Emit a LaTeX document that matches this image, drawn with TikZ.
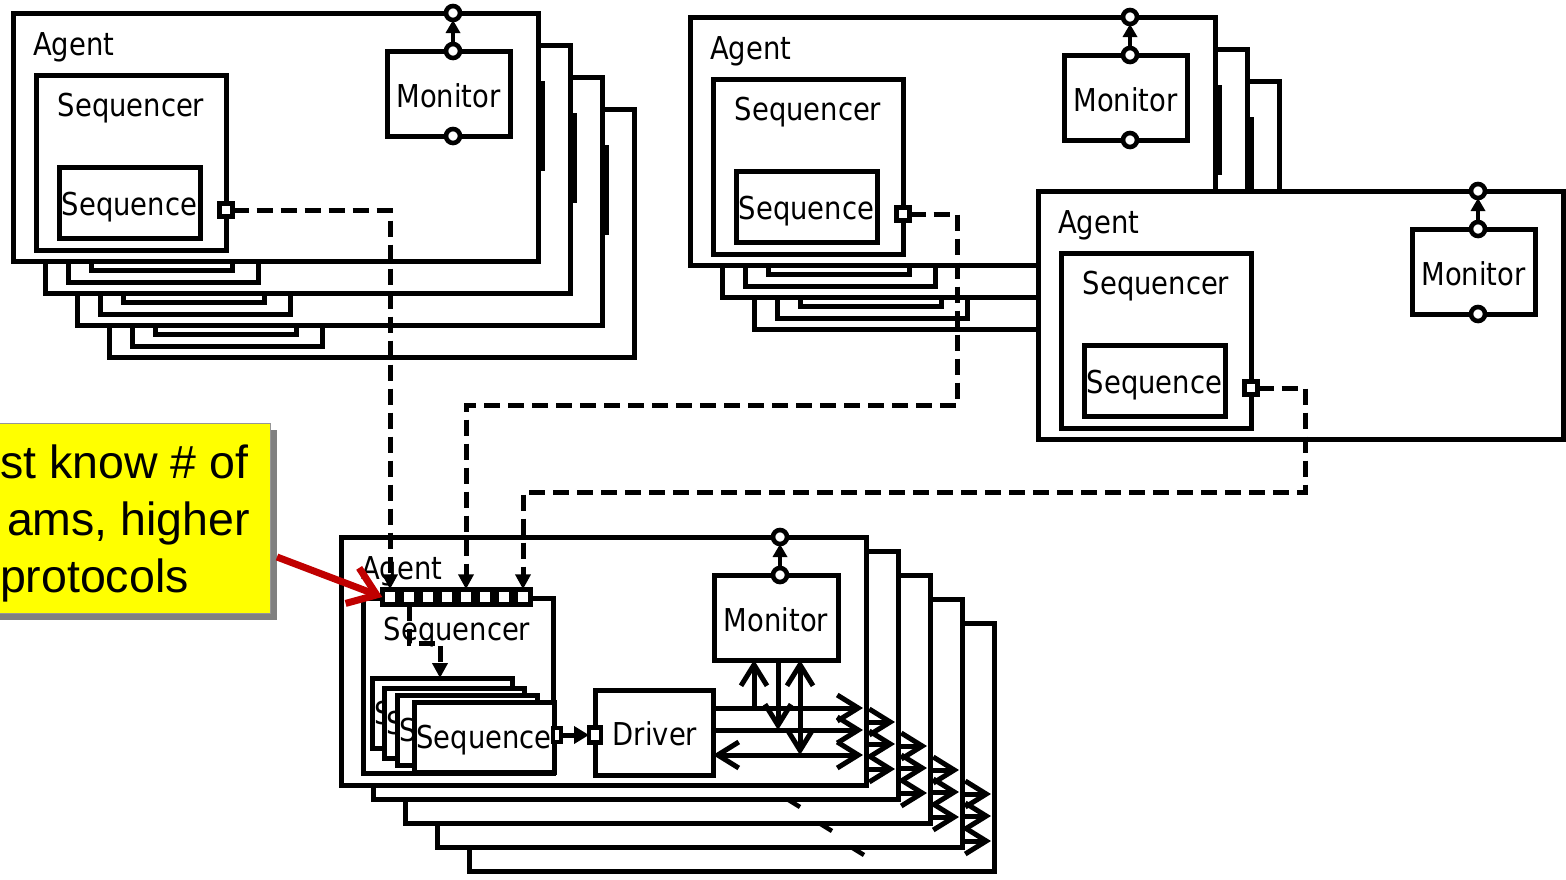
\documentclass[tikz,border=0pt]{standalone}
\usepackage{fontspec}
\usetikzlibrary{arrows.meta}
\newfontfamily\lblfont[FakeStretch=0.87]{DejaVu Sans}
\newfontfamily\callfont{Liberation Sans}
\definecolor{arrowred}{RGB}{192,0,0}
\definecolor{callyellow}{RGB}{255,255,0}
\definecolor{shadowgray}{RGB}{128,128,128}
\definecolor{bordergray}{RGB}{150,150,150}
\tikzset{
  bx/.style={draw=black, fill=white, line width=5pt, inner sep=0pt, outer sep=0pt, anchor=north west},
  lbl/.style={font=\lblfont\fontsize{31.5}{36}\selectfont, inner sep=0pt, outer sep=0pt},
  ringnode/.style={circle, draw=black, fill=white, line width=4.6pt, minimum size=14pt, inner sep=0pt, outer sep=0pt},
  portsq/.style={draw=black, fill=white, line width=4.6pt, minimum size=13pt, inner sep=0pt, outer sep=0pt},
  banksq/.style={draw=black, fill=white, line width=4.6pt, minimum size=15.5pt, inner sep=0pt, outer sep=0pt},
  dashconn/.style={draw=black, line width=5pt, dash pattern=on 16pt off 8pt, -{Triangle[length=15pt,width=15pt]}},
  upconn/.style={draw=black, line width=4pt, -{Triangle[length=13pt,width=14pt]}},
  solidarrow/.style={draw=black, line width=5pt, -{Triangle[length=15pt,width=17pt]}},
  sig/.style={draw=black, line width=5pt, -{Straight Barb[length=21pt,width=26pt]}},
  sigboth/.style={draw=black, line width=5pt, {Straight Barb[length=21pt,width=26pt]}-{Straight Barb[length=21pt,width=26pt]}},
  stubline/.style={draw=black, line width=4.5pt},
  redarrow/.style={draw=arrowred, line width=7pt, -{Straight Barb[length=26pt,width=38pt]}},
  calltext/.style={font=\callfont\fontsize{46.5}{56}\selectfont, inner sep=0pt, outer sep=0pt},
}
% top-style agent shapes: prefix, x, y
\newcommand\agentTshape[3]{%
\begin{scope}[shift={(#2,#3)}]
 \node[bx, minimum width=525pt, minimum height=248pt] (#1-agent) at (0,0) {};
 \node[bx, minimum width=190pt, minimum height=175pt] (#1-sqr) at (23,62) {};
 \node[bx, minimum width=141pt, minimum height=71pt] (#1-seq) at (46,154) {};
 \node[portsq] (#1-port) at (213,197) {};
 \node[bx, minimum width=123pt, minimum height=85pt] (#1-mon) at (374,38) {};
 \node[ringnode] (#1-mtop) at (440,38) {};
 \node[ringnode] (#1-mbot) at (440,123) {};
 \node[ringnode] (#1-atop) at (440,0) {};
 \draw[upconn] (#1-mtop) -- (#1-atop);
\end{scope}}
% top-style agent labels
\newcommand\agentTlabels[3]{%
\begin{scope}[shift={(#2,#3)}]
 \node[lbl, anchor=base west] (#1-agentlbl) at (20,42) {Agent};
 \node[lbl, anchor=base] (#1-sqrlbl) at (118,103) {Sequencer};
 \node[lbl, anchor=base] (#1-seqlbl) at (116.5,202) {Sequence};
 \node[lbl, anchor=base] (#1-monlbl) at (435.5,94) {Monitor};
\end{scope}}
% bottom stack, back agent: prefix, x, y
\newcommand\agentBback[3]{%
\begin{scope}[shift={(#2,#3)}]
 \node[bx, minimum width=525pt, minimum height=248pt] (#1-agent) at (0,0) {};
 \coordinate (#1-s1) at (372,171);
 \coordinate (#1-s2) at (372,193);
 \coordinate (#1-s3) at (372,218);
 \coordinate (#1-e1) at (522,171);
 \coordinate (#1-e2) at (522,193);
 \coordinate (#1-e3) at (522,218);
 \draw[sig] (#1-s1) -- (#1-e1);
 \draw[sig] (#1-s2) -- (#1-e2);
 \draw[sig] (#1-s3) -- (#1-e3);
\end{scope}}
% bottom stack, front agent: prefix, x, y
\newcommand\agentB[3]{%
\begin{scope}[shift={(#2,#3)}]
 \node[bx, minimum width=525pt, minimum height=248pt] (#1-agent) at (0,0) {};
 \node[lbl, anchor=base west] (#1-agentlbl) at (20,42) {Agent};
 \node[bx, minimum width=190pt, minimum height=175pt] (#1-sqr) at (22,61) {};
 \node[lbl, anchor=base] (#1-sqrlbl) at (116,103) {Sequencer};
 \node[bx, minimum width=140pt, minimum height=70pt] (#1-sa) at (31,141) {};
 \node[lbl, anchor=base west] (#1-salbl) at (33,187) {S};
 \node[bx, minimum width=140pt, minimum height=70pt] (#1-sb) at (43,151) {};
 \node[lbl, anchor=base west] (#1-sblbl) at (45,197) {S};
 \node[bx, minimum width=140pt, minimum height=70pt] (#1-sc) at (56,158) {};
 \node[lbl, anchor=base west] (#1-sclbl) at (58,204) {S};
 \node[bx, minimum width=140pt, minimum height=70pt] (#1-sd) at (73,165) {};
 \node[lbl, anchor=base] (#1-sdlbl) at (143,211) {Sequence};
 \node[bx, minimum width=118pt, minimum height=85pt] (#1-drv) at (254,153) {};
 \node[lbl, anchor=base] (#1-drvlbl) at (314,208) {Driver};
 \node[draw=black, fill=white, line width=4.4pt, minimum width=12pt, minimum height=15pt, inner sep=0pt, outer sep=0pt] (#1-dport) at (254,198) {};
 \node[draw=black, fill=white, line width=4.4pt, minimum width=8pt, minimum height=14pt, inner sep=0pt, outer sep=0pt] (#1-sport) at (216,198) {};
 \draw[solidarrow] (#1-sport.east) -- (#1-dport.west);
 \node[bx, minimum width=124pt, minimum height=85pt] (#1-mon) at (373,38) {};
 \node[lbl, anchor=base] (#1-monlbl) at (435,94) {Monitor};
 \node[ringnode] (#1-mtop) at (439,38) {};
 \node[ringnode] (#1-atop) at (439,0) {};
 \draw[upconn] (#1-mtop) -- (#1-atop);
 \coordinate (#1-e1) at (522,171);
 \coordinate (#1-e2) at (522,193);
 \coordinate (#1-e3) at (522,218);
 \draw[sig] (#1-drv.east |- #1-e1) -- (#1-e1);
 \draw[sig] (#1-drv.east |- #1-e2) -- (#1-e2);
 \draw[sigboth] (#1-drv.east |- #1-e3) -- (#1-e3);
 \coordinate (#1-v1) at (413,171);
 \coordinate (#1-v2) at (437,193);
 \coordinate (#1-v3) at (459,218);
 \draw[sig] (#1-v1) -- (#1-v1 |- #1-mon.south);
 \draw[sig] (#1-v2 |- #1-mon.south) -- (#1-v2);
 \draw[sigboth] (#1-v3 |- #1-mon.south) -- (#1-v3);
 \foreach \k in {0,...,7} {\node[banksq] (#1-b\k) at ({49+19*\k},60) {};}
 \coordinate (#1-bend) at (99,106);
 \draw[dashconn] (#1-b1.south) |- (#1-bend) -- (#1-bend |- #1-sa.north);
\end{scope}}

\begin{document}
\begin{tikzpicture}[x=1pt,y=-1pt,line join=miter]
\useasboundingbox (0,0) rectangle (1566,879);
% top-left stack
\agentTshape{tlD}{109}{109}
\agentTshape{tlC}{77}{77}
\agentTshape{tlB}{45}{45}
\agentTshape{tlA}{13}{13}
\agentTlabels{tlA}{13}{13}
% top-right stack
\agentTshape{trC}{754}{81}
\agentTshape{trB}{722}{49}
\agentTshape{trA}{690}{17}
\agentTlabels{trA}{690}{17}
\agentTshape{rb}{1038}{191}
\agentTlabels{rb}{1038}{191}
% bottom stack
\agentBback{btE}{469}{623}
\agentBback{btD}{437}{599}
\agentBback{btC}{405}{575}
\agentBback{btB}{373}{551}
\agentB{btA}{341}{537}
% small stubs on the bottoms of the middle agents
\draw[stubline] (787,799) -- (800,807);
\draw[stubline] (819,823) -- (832,831);
\draw[stubline] (851,847) -- (864,855);
% dashed connections
\draw[dashconn] (tlA-port.east) -| (btA-b0.north);
\coordinate (jA) at (957,405);
\draw[dashconn] (trA-port.east) -| (jA) -| (btA-b4.north);
\coordinate (jB) at (1305,492);
\draw[dashconn] (rb-port.east) -| (jB) -| (btA-b7.north);
% callout
\node[fill=shadowgray, minimum width=390pt, minimum height=190pt, inner sep=0pt, anchor=north west] (callshadow) at (-113,430) {};
\node[draw=bordergray, line width=1.2pt, fill=callyellow, minimum width=390pt, minimum height=190pt, inner sep=0pt, anchor=north west] (callout) at (-120,423) {};
\node[calltext, anchor=base west] (ct1) at (0,478) {st know \# of};
\node[calltext, anchor=base east] (ct2) at (250,535) {ams, higher};
\node[calltext, anchor=base west] (ct3) at (0,592) {protocols};
\coordinate (redstart) at (277,557);
\draw[redarrow] (redstart) -- (btA-b0.west);
\end{tikzpicture}
\end{document}
